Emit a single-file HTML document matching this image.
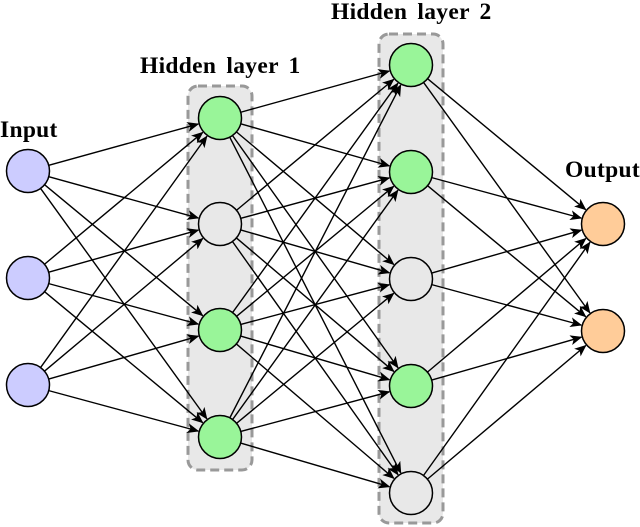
<!DOCTYPE html>
<html><head><meta charset="utf-8"><style>
html,body{margin:0;padding:0;background:#fff;width:640px;height:527px;overflow:hidden}
svg text{font-family:"Liberation Serif",serif;font-weight:bold;font-size:23.5px;fill:#000;letter-spacing:0.3px;word-spacing:4px}
</style></head><body>
<svg id="s" width="640" height="527" viewBox="0 0 640 527" xmlns="http://www.w3.org/2000/svg">
<defs>
<marker id="a" viewBox="0 0 12 10" refX="11" refY="5" markerWidth="12" markerHeight="10" markerUnits="userSpaceOnUse" orient="auto">
<path d="M0,0 L12,5 L0,10 L3,5 Z" fill="#000"/>
</marker>
</defs>
<rect x="188" y="86" width="64" height="384" rx="10" fill="#e8e8e8" stroke="#999" stroke-width="3" stroke-dasharray="9,5"/>
<rect x="379" y="34" width="64" height="489" rx="10" fill="#e8e8e8" stroke="#999" stroke-width="3" stroke-dasharray="9,5"/>
<g id="edges" stroke="#000" stroke-width="1.4" fill="none"></g>
<g id="nodes" stroke="#000" stroke-width="1.5"></g>
<text x="0" y="137">Input</text>
<text x="140" y="73">Hidden layer 1</text>
<text x="331" y="19">Hidden layer 2</text>
<text x="565" y="177">Output</text>
</svg>
<script>
var R=21.5;
var L=[
 {x:28,ys:[171,278,385],c:["#ccccff","#ccccff","#ccccff"]},
 {x:220,ys:[118,224,330,437],c:["#99f599","#e8e8e8","#99f599","#99f599"]},
 {x:411,ys:[65,172,279,386,493],c:["#99f599","#99f599","#e8e8e8","#99f599","#e8e8e8"]},
 {x:603,ys:[224,331],c:["#ffcc99","#ffcc99"]}
];
var NS="http://www.w3.org/2000/svg",E=document.getElementById("edges"),N=document.getElementById("nodes");
for(var i=0;i<3;i++){var A=L[i],B=L[i+1];
 A.ys.forEach(function(y1){B.ys.forEach(function(y2){
  var dx=B.x-A.x,dy=y2-y1,d=Math.sqrt(dx*dx+dy*dy),ux=dx/d,uy=dy/d;
  var l=document.createElementNS(NS,"line");
  l.setAttribute("x1",A.x+ux*R);l.setAttribute("y1",y1+uy*R);
  l.setAttribute("x2",B.x-ux*(R+1));l.setAttribute("y2",y2-uy*(R+1));
  l.setAttribute("marker-end","url(#a)");E.appendChild(l);});});}
L.forEach(function(A){A.ys.forEach(function(y,j){
 var c=document.createElementNS(NS,"circle");c.setAttribute("cx",A.x);c.setAttribute("cy",y);c.setAttribute("r",R);c.setAttribute("fill",A.c[j]);N.appendChild(c);});});
</script>
</body></html>
